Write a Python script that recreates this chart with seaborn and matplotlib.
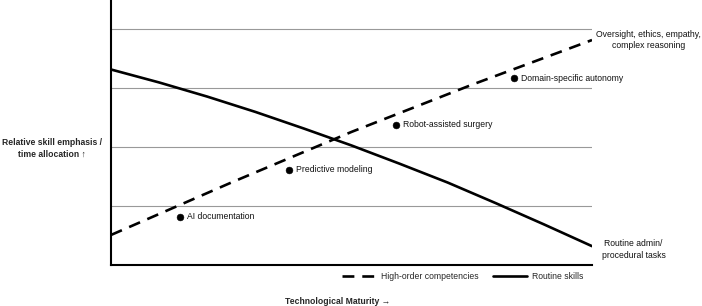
import numpy as np
import pandas as pd
import matplotlib
matplotlib.use("Agg")
import matplotlib.pyplot as plt
import seaborn as sns

# Data
maturity = [0, 1, 2, 3, 4, 5, 6, 7, 8, 9, 10]
routine_skills = [3.32, 3.10, 2.86, 2.60, 2.32, 2.03, 1.72, 1.40, 1.05, 0.69, 0.32]
high_x = [0, 2.5, 5, 7.5, 10]
high_order = [0.51, 1.40, 2.26, 3.06, 3.82]

milestone_names = ["AI documentation", "Predictive modeling",
                   "Robot-assisted surgery", "Domain-specific autonomy"]
milestone_x = [1.43, 3.70, 5.92, 8.38]
milestone_y = [0.82, 1.62, 2.38, 3.17]

sns.set_theme(style="white")
plt.rcParams['font.family'] = ['Liberation Sans', 'DejaVu Sans']

FS = 6.2
fig = plt.figure(figsize=(7.02, 3.06), dpi=100)
ax = fig.add_axes([111/702, 41/306, (592-111)/702, 265/306])

df_r = pd.DataFrame({"x": maturity, "y": routine_skills})
df_h = pd.DataFrame({"x": high_x, "y": high_order})
df_m = pd.DataFrame({"x": milestone_x, "y": milestone_y, "name": milestone_names})

sns.lineplot(data=df_h, x="x", y="y", ax=ax, color="black", lw=1.9,
             linestyle=(0, (4.5, 3)), label="High-order competencies")
sns.lineplot(data=df_r, x="x", y="y", ax=ax, color="black", lw=1.9,
             label="Routine skills")
sns.scatterplot(data=df_m, x="x", y="y", ax=ax, color="black", s=24,
                edgecolor="black", legend=False, zorder=5)
for _, r in df_m.iterrows():
    ax.annotate(r["name"], (r["x"], r["y"]), xytext=(5, 0),
                textcoords="offset points", fontsize=FS, va="center",
                ha="left", color="#111111")

ax.set_xlim(0, 10)
ax.set_ylim(0, 4.5)
ax.set_yticks([1, 2, 3, 4])
ax.set_xticks([])
ax.set_yticklabels([])
ax.tick_params(left=False, bottom=False)
ax.yaxis.grid(True, color="#999999", lw=0.8)
ax.xaxis.grid(False)
for s in ["top", "right"]:
    ax.spines[s].set_visible(False)
for s in ["left", "bottom"]:
    ax.spines[s].set_color("black")
    ax.spines[s].set_linewidth(1.5)

ax.set_xlabel("Technological Maturity \u2192", fontsize=FS, fontweight="bold")
ax.xaxis.set_label_coords((338-111)/481, -(297-265)/265)
ax.set_ylabel("Relative skill emphasis /\ntime allocation \u2191", fontsize=FS,
              fontweight="bold", rotation=0, ha="center", va="center",
              linespacing=1.4)
ax.yaxis.set_label_coords(-(111-52)/481, (265-148)/265)

ax.text(10.08, 3.82, "Oversight, ethics, empathy,\ncomplex reasoning",
        fontsize=FS, ha="left", va="center", multialignment="center",
        color="#111111", linespacing=1.4)
ax.text(10.2, 0.27, "Routine admin/\nprocedural tasks",
        fontsize=FS, ha="left", va="center", multialignment="center",
        color="#111111", linespacing=1.4)

leg = ax.legend(loc="upper right", bbox_to_anchor=(0.99, -0.015), ncol=2,
                frameon=False, fontsize=FS, handlelength=4, columnspacing=1.6,
                handletextpad=0.6, borderaxespad=0)

fig.savefig("out.png", dpi=100)
